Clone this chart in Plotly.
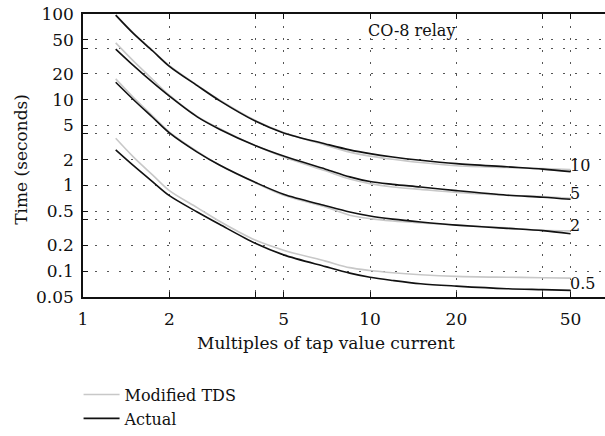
import math
import plotly.graph_objects as go

# Multiples of tap value current
multiples = [1.3, 1.5, 1.75, 2, 2.5, 3, 4, 5, 7, 8.5, 10, 12, 15, 20, 30, 40, 50]

# Actual CO-8 curves (seconds)
actual_10 = [97, 59, 37, 24.5, 14.6, 9.7, 5.6, 4.1, 3.05, 2.6, 2.35, 2.15, 1.97, 1.80, 1.65, 1.55, 1.45]
actual_5 = [39, 25, 15.9, 11.0, 6.3, 4.5, 2.9, 2.2, 1.55, 1.26, 1.11, 1.03, 0.96, 0.87, 0.77, 0.73, 0.69]
actual_2 = [16, 10, 6.2, 4.1, 2.45, 1.72, 1.08, 0.79, 0.58, 0.49, 0.44, 0.405, 0.375, 0.345, 0.316, 0.297, 0.273]
actual_05 = [2.6, 1.70, 1.10, 0.76, 0.49, 0.35, 0.21, 0.155, 0.113, 0.095, 0.085, 0.078, 0.0714, 0.067, 0.0625, 0.061, 0.0598]

# Modified TDS curves (seconds)
modified_10 = [97, 60, 37.5, 25, 14.8, 9.9, 5.7, 4.15, 2.95, 2.45, 2.2, 2.02, 1.85, 1.70, 1.62, 1.57, 1.53]
modified_5 = [46, 28.2, 17.2, 11.3, 6.4, 4.6, 2.9, 2.15, 1.48, 1.19, 1.05, 0.96, 0.90, 0.83, 0.77, 0.74, 0.71]
modified_2 = [17.5, 10.6, 6.45, 4.2, 2.5, 1.72, 1.07, 0.77, 0.56, 0.45, 0.41, 0.385, 0.365, 0.345, 0.32, 0.30, 0.295]
modified_05 = [3.55, 2.14, 1.32, 0.87, 0.552, 0.38, 0.229, 0.176, 0.131, 0.110, 0.102, 0.096, 0.091, 0.087, 0.085, 0.084, 0.083]

tds_labels = ["10", "5", "2", "0.5"]
tds_label_y = [1.69, 0.81, 0.34, 0.072]

x_tickvals = [1, 2, 4, 5, 10, 20, 40, 50]
x_ticktext = ["1", "2", "", "5", "10", "20", "", "50"]
y_tickvals = [0.05, 0.1, 0.2, 0.4, 0.5, 1, 2, 4, 5, 10, 20, 40, 50, 100]
y_ticktext = ["0.05", "0.1", "0.2", "", "0.5", "1", "2", "", "5", "10", "20", "", "50", "100"]

FONT = "DejaVu Serif"
GRAY = "#c8c8c8"
BLACK = "#111111"

fig = go.Figure()

modified = [modified_10, modified_5, modified_2, modified_05]
actual = [actual_10, actual_5, actual_2, actual_05]

for i, ys in enumerate(modified):
    fig.add_trace(go.Scatter(
        x=multiples, y=ys, mode="lines", name="Modified TDS",
        line=dict(color=GRAY, width=1.6, shape="spline", smoothing=0.9),
        legendgroup="mod", showlegend=(i == 0)))
for i, ys in enumerate(actual):
    fig.add_trace(go.Scatter(
        x=multiples, y=ys, mode="lines", name="Actual",
        line=dict(color=BLACK, width=1.6, shape="spline", smoothing=0.9),
        legendgroup="act", showlegend=(i == 0)))

for lab, yv in zip(tds_labels, tds_label_y):
    fig.add_annotation(x=math.log10(50), y=math.log10(yv), text=lab,
                       xanchor="left", yanchor="middle", showarrow=False,
                       xshift=-3, font=dict(family=FONT, size=16, color=BLACK))

fig.add_annotation(x=math.log10(14), y=math.log10(64), text="CO-8 relay",
                   xanchor="center", yanchor="middle", showarrow=False,
                   font=dict(family=FONT, size=16, color=BLACK))

# axis titles
fig.add_annotation(xref="paper", yref="paper", x=0.4655, y=-0.163,
                   text="Multiples of tap value current", showarrow=False,
                   xanchor="center", yanchor="middle",
                   font=dict(family=FONT, size=17, color=BLACK))
fig.add_annotation(xref="paper", yref="paper", x=-0.119, y=0.488,
                   text="Time (seconds)", showarrow=False, textangle=-90,
                   xanchor="center", yanchor="middle",
                   font=dict(family=FONT, size=17, color=BLACK))

grid_common = dict(showgrid=True, gridcolor="#555555", gridwidth=1.2,
                   griddash="2px,10px")

fig.update_xaxes(type="log", range=[0, (605 - 83) / 287], automargin=False,
                 tickmode="array", tickvals=x_tickvals, ticktext=x_ticktext,
                 ticks="inside", ticklen=5, tickwidth=1.2, tickcolor=BLACK,
                 showline=True, linecolor=BLACK, linewidth=1.5, mirror="allticks",
                 zeroline=False, ticklabelstandoff=6,
                 tickfont=dict(family=FONT, size=17, color=BLACK),
                 **grid_common)
fig.update_yaxes(type="log", range=[math.log10(0.05), 2], automargin=False,
                 tickmode="array", tickvals=y_tickvals, ticktext=y_ticktext,
                 ticks="inside", ticklen=5, tickwidth=1.2, tickcolor=BLACK,
                 showline=True, linecolor=BLACK, linewidth=1.5, mirror=False,
                 zeroline=False, ticklabelstandoff=4,
                 tickfont=dict(family=FONT, size=17, color=BLACK),
                 **grid_common)

fig.update_layout(
    width=605, height=436,
    margin=dict(l=83, r=0, t=14, b=133),
    plot_bgcolor="white", paper_bgcolor="white",
    font=dict(family=FONT, size=17, color=BLACK),
    legend=dict(x=-0.0085, y=-0.285, xanchor="left", yanchor="top",
                bgcolor="rgba(0,0,0,0)", tracegroupgap=0, itemwidth=36,
                font=dict(family=FONT, size=16, color=BLACK)),
)

fig.write_html("out.html", config={"displayModeBar": False},
               post_script="document.body.style.margin='0';document.body.style.overflow='hidden';")
